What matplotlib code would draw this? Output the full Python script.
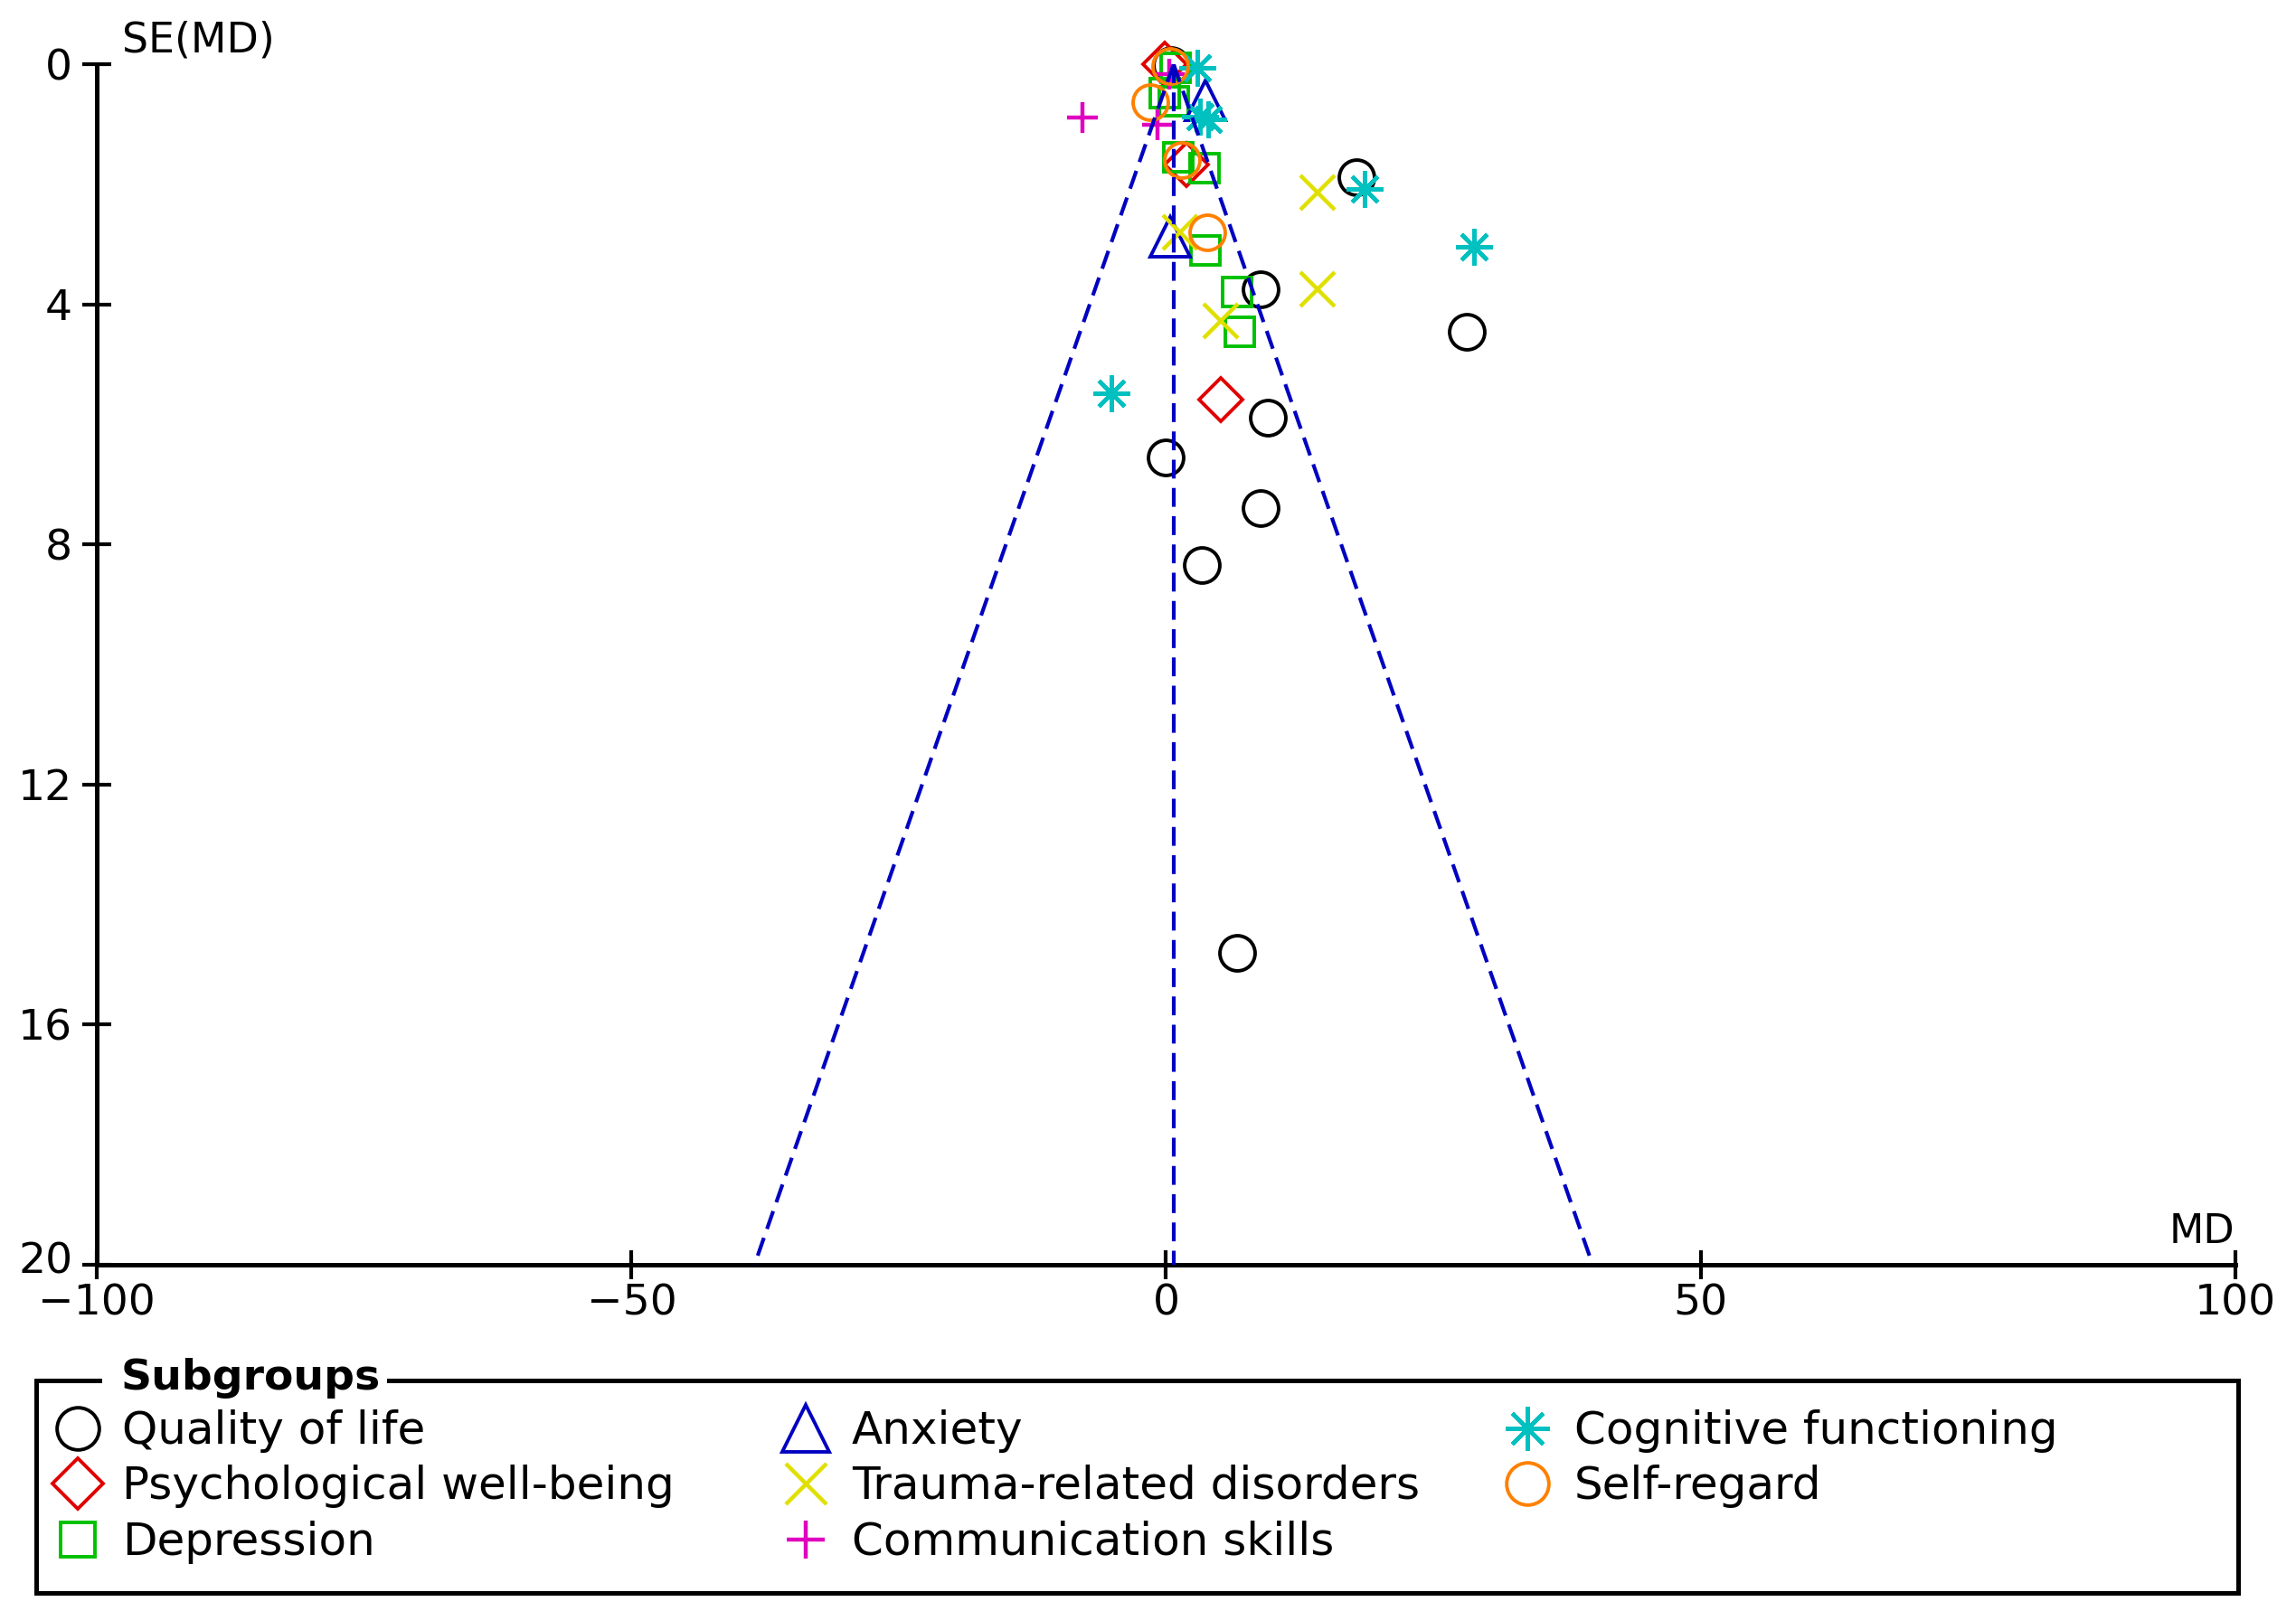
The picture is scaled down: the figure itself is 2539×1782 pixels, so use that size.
import matplotlib.pyplot as plt
import matplotlib.transforms as mtransforms
import numpy as np

# pooled mean difference (centre of the funnel)
md_pooled = 0.7

# data per subgroup: mean difference (MD) and its standard error SE(MD)
qol_md = [0.5, 17.8, 8.8, 28.1, 9.5, 0.0, 8.8, 3.3, 6.6]
qol_se = [0.02, 1.89, 3.75, 4.46, 5.89, 6.55, 7.39, 8.35, 14.81]

psy_md = [-0.1, 1.9, 5.1]
psy_se = [0.0, 1.67, 5.59]

dep_md = [0.9, -0.1, 0.75, 1.1, 3.6, 3.7, 6.6, 6.9]
dep_se = [0.06, 0.48, 0.61, 1.55, 1.73, 3.10, 3.80, 4.46]

anx_md = [3.7, 0.4]
anx_se = [0.60, 2.87]

trauma_md = [14.2, 1.3, 14.2, 5.1]
trauma_se = [2.14, 2.80, 3.75, 4.28]

comm_md = [-7.8, -0.8, 0.3]
comm_se = [0.89, 1.01, 0.17]

cog_md = [2.95, 3.2, 3.9, 18.6, 28.8, -5.1]
cog_se = [0.06, 0.88, 0.92, 2.08, 3.04, 5.48]

self_md = [0.4, -1.45, 1.45, 3.85]
self_se = [0.03, 0.64, 1.60, 2.80]

labels = ["Quality of life", "Psychological well-being", "Depression",
          "Anxiety", "Trauma-related disorders", "Communication skills",
          "Cognitive functioning", "Self-regard"]
md_values = [qol_md, psy_md, dep_md, anx_md, trauma_md, comm_md, cog_md, self_md]
se_values = [qol_se, psy_se, dep_se, anx_se, trauma_se, comm_se, cog_se, self_se]

x_ticks = [-100, -50, 0, 50, 100]
y_ticks = [0, 4, 8, 12, 16, 20]

# marker styles (marker, colour, size in pt, edge width)
styles = [
    ('o', '#000000', 28, 2.8),
    ('D', '#e00000', 24, 2.8),
    ('s', '#00c000', 23, 2.8),
    ('^', '#0000c0', 31, 2.8),
    ('x', '#e0e000', 27, 3.2),
    ('+', '#e000c0', 25, 3.2),
    ((8, 2, 0), '#00c0c0', 29, 3.2),
    ('o', '#ff8000', 28, 2.8),
]

W, H = 2539, 1782
fig = plt.figure(figsize=(W / 100, H / 100), dpi=100)

# full-figure overlay in pixel coordinates for the legend box and labels
ax_leg = fig.add_axes([0, 0, 1, 1])
ax_leg.set_xlim(0, W)
ax_leg.set_ylim(H, 0)
ax_leg.axis('off')

x0, x1, y0, y1 = 107.3, 2471.7, 71, 1399
ax = fig.add_axes([x0 / W, 1 - y1 / H, (x1 - x0) / W, (y1 - y0) / H])
ax.patch.set_visible(False)

for (mk, col, ms, mew), md, se in zip(styles, md_values, se_values):
    ax.plot(md, se, linestyle='none', marker=mk, mfc='none', mec=col,
            ms=ms, mew=mew, clip_on=False, zorder=3)

# funnel: pseudo 95% limits
se_line = np.array([0, 20])
funnel_kw = dict(color='#0000c0', lw=3.0, dashes=(5, 2.5), zorder=4)
ax.plot(md_pooled - 1.96 * se_line, se_line, **funnel_kw)
ax.plot(md_pooled + 1.96 * se_line, se_line, **funnel_kw)
ax.plot([md_pooled, md_pooled], se_line, **funnel_kw)

ax.set_xlim(-100, 100)
ax.set_ylim(20, 0)
ax.set_xticks(x_ticks)
ax.set_yticks(y_ticks)
ax.spines['top'].set_visible(False)
ax.spines['right'].set_visible(False)
ax.spines['left'].set_linewidth(3.6)
ax.spines['bottom'].set_linewidth(3.6)
ax.tick_params(direction='inout', length=23, width=3, labelsize=34)
ax.tick_params(axis='x', pad=3)
ax.tick_params(axis='y', pad=8)

# nudge the bottom y label up a little so it clears the "-100" label
lab20 = ax.get_yticklabels()[-1]
lab20.set_transform(lab20.get_transform() +
                    mtransforms.ScaledTranslation(0, 6 / 72, fig.dpi_scale_trans))

ax_leg.text(135, 57, 'SE(MD)', fontsize=33, va='baseline', ha='left')
ax_leg.text(2471, 1375, 'MD', fontsize=32, va='baseline', ha='right')

# legend frame with the title breaking the top edge
bl, br, bt, bb = 40, 2475, 1527, 1762
ax_leg.plot([110, bl, bl, br, br, 430], [bt, bt, bb, bb, bt, bt],
            color='black', lw=3.6, solid_joinstyle='miter')
ax_leg.text(134, 1537, 'Subgroups', fontsize=34, fontweight='bold',
            va='baseline', ha='left')

col_marker_x = [86, 891, 1689]
col_text_x = [135, 942, 1741]
row_y = [1580, 1641, 1703]
for i, (lab, (mk, col, ms, mew)) in enumerate(zip(labels, styles)):
    c, r = i // 3, i % 3
    ax_leg.plot([col_marker_x[c]], [row_y[r]], linestyle='none', marker=mk,
                mfc='none', mec=col, ms=ms * 1.2, mew=mew)
    ax_leg.text(col_text_x[c], row_y[r] + 17, lab, fontsize=36,
                va='baseline', ha='left')

fig.savefig('out.png', dpi=100)
